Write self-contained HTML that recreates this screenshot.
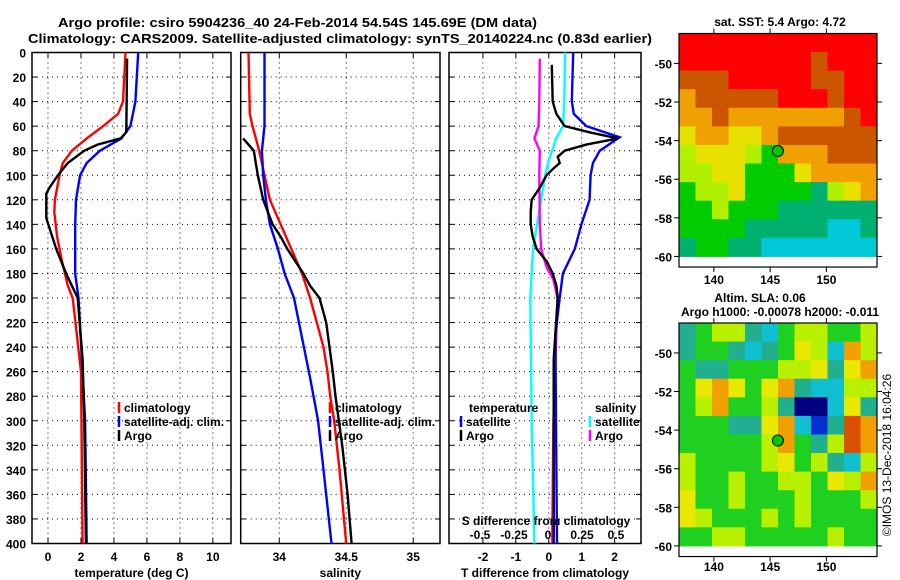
<!DOCTYPE html>
<html><head><meta charset="utf-8">
<style>
html,body{margin:0;padding:0;background:#fff;}
svg{display:block;font-family:"Liberation Sans",sans-serif;}
.t{font-weight:bold;font-size:13px;}
.tk{font-weight:bold;font-size:12px;}
</style></head>
<body>
<svg id="fig" width="900" height="580" viewBox="0 0 900 580" xmlns="http://www.w3.org/2000/svg">
<text class="t" x="58" y="27" textLength="479" lengthAdjust="spacingAndGlyphs">Argo profile: csiro 5904236_40 24-Feb-2014 54.54S 145.69E (DM data)</text>
<text class="t" x="28" y="43" textLength="624" lengthAdjust="spacingAndGlyphs">Climatology: CARS2009. Satellite-adjusted climatology: synTS_20140224.nc (0.83d earlier)</text>
<g id="panels"></g>
<g id="maps"></g>
<text class="tk" x="780" y="26" text-anchor="middle">sat. SST: 5.4 Argo: 4.72</text>
<text class="tk" x="760" y="302" text-anchor="middle">Altim. SLA: 0.06</text>
<text class="tk" x="780" y="316" text-anchor="middle">Argo h1000: -0.00078 h2000: -0.011</text>
<text font-size="12" transform="translate(891,455) rotate(-90)" text-anchor="middle">©IMOS 13-Dec-2018 16:04:26</text>
</svg>
<script>
// ---------- profile data ----------
const tempRedDepth=[0,40,50,60,70,80,90,100,120,130,150,170,190,200,260,400];
const tempRedVal=[4.7,4.55,4.25,3.35,2.35,1.45,0.9,0.7,0.42,0.38,0.55,0.85,1.2,1.5,2.0,2.1];
const tempBlueDepth=[0,40,60,70,80,90,100,120,140,180,200,260,300,400];
const tempBlueVal=[5.47,5.3,5.0,4.45,3.15,2.35,1.95,1.7,1.65,1.65,1.85,2.1,2.25,2.35];
const tempArgoDepth=[5,65,70,75,80,90,100,110,115,135,160,180,200,250,300,400];
const tempArgoVal=[4.8,4.75,4.4,3.0,2.2,1.2,0.6,0.1,-0.1,-0.1,0.5,1.1,1.8,2.1,2.2,2.3];

const salRedDepth=[0,50,60,80,100,120,140,160,180,200,220,240,260,280,300,340,400];
const salRedVal=[33.77,33.78,33.80,33.85,33.89,33.93,34.01,34.09,34.17,34.23,34.28,34.33,34.36,34.38,34.41,34.45,34.5];
const salBlueDepth=[0,60,80,100,120,140,160,180,200,265,300,340,400];
const salBlueVal=[33.89,33.89,33.87,33.88,33.9,33.93,33.99,34.04,34.11,34.23,34.29,34.33,34.39];
const salArgoDepth=[70,80,100,120,140,150,160,170,180,190,200,220,260,280,320,360,400];
const salArgoVal=[33.73,33.81,33.84,33.88,33.95,34.01,34.06,34.12,34.18,34.23,34.3,34.35,34.4,34.42,34.47,34.51,34.54];

const dTSatDepth=[0,40,50,60,69,80,90,100,120,140,160,180,200,230,300,400];
const dTSatVal=[0.74,0.7,0.76,1.14,2.15,1.55,1.34,1.27,1.24,0.99,0.79,0.43,0.33,0.2,0.22,0.25];
const dTArgoDepth=[10,40,50,60,65,70,75,80,85,90,95,100,110,120,130,140,150,160,170,180,190,200,250,300,400];
const dTArgoVal=[0.09,0.12,0.23,0.48,1.24,2.1,1.14,0.48,0.27,0.33,0.12,-0.07,-0.27,-0.52,-0.55,-0.55,-0.49,-0.37,-0.07,0.12,0.23,0.27,0.15,0.15,0.15];
const dSSatDepth=[0,40,60,70,80,90,100,120,140,160,180,200,300,400];
const dSSatVal=[0.125,0.12,0.11,0.06,0.03,0.0,-0.02,-0.05,-0.08,-0.11,-0.12,-0.13,-0.12,-0.10];
const dSArgoDepth=[5,40,60,70,75,80,100,140,160,175,185,200,300,400];
const dSArgoVal=[-0.06,-0.064,-0.07,-0.1,-0.08,-0.06,-0.064,-0.06,-0.05,-0.01,0.04,0.07,0.04,0.03];

const depthTicks=[0,20,40,60,80,100,120,140,160,180,200,220,240,260,280,300,320,340,360,380,400];
const tempTicks=[0,2,4,6,8,10];
const salTicks=[34,34.5,35];
const dTTicks=[-2,-1,0,1,2];
const dSTicks=[-0.5,-0.25,0,0.25,0.5];
const dSTickLabels=["-0.5","-0.25","0","0.25","0.5"];

// ---------- map data ----------
const sstGrid=[
"RRRRRRRRRRRR",
"RRRRRRRRBRRR",
"BBBRRRRRBBRR",
"OBBBBBRRRBRR",
"OOBOOOOOOOBR",
"YOOYYOBBBBBB",
"LYYYLGOOOBBB",
"LLYYGGGYOOOO",
"GLLYGGGGTLYO",
"GGLGGGTTTTTT",
"GGGGTTTTTCCT",
"TGGTTCCCCCCC"];
const slaGrid=[
"TGLLTCGLLGGL",
"TGGTCTGYLCOL",
"GTTGGGLLYTYO",
"GYOYGYOTCCLL",
"GLOGGLTDDCYT",
"GGGTTYOCBTRO",
"GGGGGLOGTLRO",
"LGGGGLYGLTCL",
"LGGLGGLLGYLO",
"YGGLGGGLGGGL",
"YLGGGLGLGGGG",
"GGLLGGGGGLGG"];
const latTicks=[-50,-52,-54,-56,-58,-60];
const lonTicks=[140,145,150];
const argoLon=145.69, argoLat=-54.54;

const NS="http://www.w3.org/2000/svg";
function mk(tag,attrs,parent){const e=document.createElementNS(NS,tag);for(const k in attrs)e.setAttribute(k,attrs[k]);parent.appendChild(e);return e;}

const yTop=52.5, yBot=543.5;
const yDepth=d=>yTop+(d/400)*(yBot-yTop);
const panelsG=document.getElementById('panels');

function panel(name,x0,x1,vmin,vmax,gridTicks,tickLabels,xlabel,showY){
  const g=mk('g',{},panelsG);
  
  
  const sx=v=>x0+(v-vmin)/(vmax-vmin)*(x1-x0);
  depthTicks.forEach(d=>{
    if(d>0&&d<400){const l=mk('line',{x1:x0,x2:x1,y1:yDepth(d),y2:yDepth(d),stroke:'#000','stroke-width':1,'stroke-dasharray':'1,4'},g);
    }
    mk('line',{x1:x0,x2:x0+5,y1:yDepth(d),y2:yDepth(d),stroke:'#000'},g);
    mk('line',{x1:x1-5,x2:x1,y1:yDepth(d),y2:yDepth(d),stroke:'#000'},g);
    if(showY){const t=mk('text',{x:26,y:yDepth(d)+5,'text-anchor':'end',class:'tk'},g);t.textContent=d;
      }
  });
  gridTicks.forEach((v,i)=>{
    const x=sx(v);
    const l=mk('line',{x1:x,x2:x,y1:yTop,y2:yBot,stroke:'#000','stroke-width':1,'stroke-dasharray':'1,4'},g);
    
    mk('line',{x1:x,x2:x,y1:yTop,y2:yTop+5,stroke:'#000'},g);
    mk('line',{x1:x,x2:x,y1:yBot-5,y2:yBot,stroke:'#000'},g);
    const t=mk('text',{x:x,y:561,'text-anchor':'middle',class:'tk'},g);t.textContent=tickLabels[i];
    
  });
  const f=mk('rect',{x:x0,y:yTop,width:x1-x0,height:yBot-yTop,fill:'none',stroke:'#000','stroke-width':1.5},g);
  
  const xl=mk('text',{x:(x0+x1)/2,y:577,'text-anchor':'middle',class:'tk'},g);xl.textContent=xlabel;
  
  return {g,sx};
}
function series(p,depths,vals,color,name,sxOverride){
  const sx=sxOverride||p.sx;
  const pts=depths.map((d,i)=>sx(vals[i]).toFixed(1)+','+yDepth(d).toFixed(1)).join(' ');
  const l=mk('polyline',{points:pts,fill:'none',stroke:color,'stroke-width':2.4},p.g);
  
}
function legend(g,x,y,color,text,name){
  const m=mk('line',{x1:x,x2:x,y1:y-10,y2:y+1,stroke:color,'stroke-width':2.5},g);
  
  const t=mk('text',{x:x+5,y:y,class:'tk'},g);t.textContent=text;
  
}

const p1=panel('temperature-panel',32,231,-0.97,11.1,tempTicks,tempTicks,'temperature (deg C)',true);
series(p1,tempRedDepth,tempRedVal,'#ff0000','climatology-temperature-line');
series(p1,tempBlueDepth,tempBlueVal,'#0000ff','satellite-temperature-line');
series(p1,tempArgoDepth,tempArgoVal,'#000','argo-temperature-line');
legend(p1.g,119,412,'#ff0000','climatology','legend-climatology');
legend(p1.g,119,426,'#0000ff','satellite-adj. clim.','legend-satellite-adj');
legend(p1.g,119,440,'#000','Argo','legend-argo');

const p2=panel('salinity-panel',240.7,440,33.712,35.2,salTicks,salTicks,'salinity',false);
series(p2,salRedDepth,salRedVal,'#ff0000','climatology-salinity-line');
series(p2,salBlueDepth,salBlueVal,'#0000ff','satellite-salinity-line');
series(p2,salArgoDepth,salArgoVal,'#000','argo-salinity-line');
legend(p2.g,330,412,'#ff0000','climatology','legend-climatology-sal');
legend(p2.g,330,426,'#0000ff','satellite-adj. clim.','legend-satellite-adj-sal');
legend(p2.g,330,440,'#000','Argo','legend-argo-sal');

const p3=panel('difference-panel',449,641,-3.03,2.8,dTTicks,dTTicks,'T difference from climatology',false);
const sxS=v=>548+v*136;
series(p3,dSSatDepth,dSSatVal,'#00ffff','satellite-salinity-diff-line',sxS);
series(p3,dSArgoDepth,dSArgoVal,'#ff00ff','argo-salinity-diff-line',sxS);
series(p3,dTSatDepth,dTSatVal,'#0000ff','satellite-temperature-diff-line');
series(p3,dTArgoDepth,dTArgoVal,'#000','argo-temperature-diff-line');
{const t=mk('text',{x:469,y:412,class:'tk'},p3.g);t.textContent='temperature';

const t2=mk('text',{x:595,y:412,class:'tk'},p3.g);t2.textContent='salinity';
}
legend(p3.g,461,426,'#0000ff','satellite','legend-t-satellite');
legend(p3.g,461,440,'#000','Argo','legend-t-argo');
legend(p3.g,590,426,'#00ffff','satellite','legend-s-satellite');
legend(p3.g,590,440,'#ff00ff','Argo','legend-s-argo');
{const t=mk('text',{x:546,y:525,'text-anchor':'middle',class:'tk'},p3.g);t.textContent='S difference from climatology';

dSTicks.forEach((v,i)=>{const s=mk('text',{x:sxS(v),y:539,'text-anchor':'middle',class:'tk'},p3.g);s.textContent=dSTickLabels[i];
});}

// ---------- maps ----------
const sstColors={R:'#ff0000',B:'#cc5500',O:'#f0a000',Y:'#e8e000',L:'#b0f000',G:'#00cc00',T:'#00b070',C:'#00c8d8'};
const slaColors={G:'#20d020',L:'#b8f000',Y:'#e8e800',O:'#f0a000',R:'#d85000',T:'#20b090',C:'#10c0d0',B:'#0030d0',D:'#000080'};
const lonMin=136.9, lonMax=154.5, latTop=-48.45, latBot=-60;
const mapsG=document.getElementById('maps');
function map(name,top,grid,colors,bottomLabels){
  const g=mk('g',{},mapsG);
  
  const x0=679,x1=877,pxDeg=19.3;
  const sx=lon=>x0+(lon-lonMin)/(lonMax-lonMin)*(x1-x0);
  const sy=lat=>top+(latTop-lat)*pxDeg;
  const rows=grid.length, cols=grid[0].length;
  const dLat=(latTop-latBot)/rows, dLon=(lonMax-lonMin)/cols;
  for(let r=0;r<rows;r++)for(let c=0;c<cols;c++){
    const xa=sx(lonMin+c*dLon), xb=sx(lonMin+(c+1)*dLon);
    const ya=sy(latTop-r*dLat), yb=sy(latTop-(r+1)*dLat);
    const rc=mk('rect',{x:xa,y:ya,width:xb-xa+0.5,height:yb-ya+0.5,fill:colors[grid[r][c]]},g);
    
  }
  const bottom=sy(-60.55);
  const fr=mk('rect',{x:x0,y:top,width:x1-x0,height:bottom-top,fill:'none',stroke:'#000','stroke-width':1.2},g);
  
  latTicks.forEach(v=>{const y=sy(v);
    mk('line',{x1:x0-5,x2:x0,y1:y,y2:y,stroke:'#000'},g);mk('line',{x1:x1,x2:x1+5,y1:y,y2:y,stroke:'#000'},g);
    const t=mk('text',{x:672,y:y+5,'text-anchor':'end',class:'tk'},g);t.textContent=v;
    });
  lonTicks.forEach(v=>{const x=sx(v);
    mk('line',{x1:x,x2:x,y1:bottom,y2:bottom+5,stroke:'#000'},g);mk('line',{x1:x,x2:x,y1:top-5,y2:top,stroke:'#000'},g);
    const t=mk('text',{x:x,y:bottomLabels,'text-anchor':'middle',class:'tk'},g);t.textContent=v;
    });
  const dot=mk('circle',{cx:sx(argoLon),cy:sy(argoLat),r:5.5,fill:'#00c800',stroke:'#000','stroke-width':1},g);
  
}
map('sst-map',33.5,sstGrid,sstColors,284);
map('sla-map',323,slaGrid,slaColors,571);
</script>
</body></html>
